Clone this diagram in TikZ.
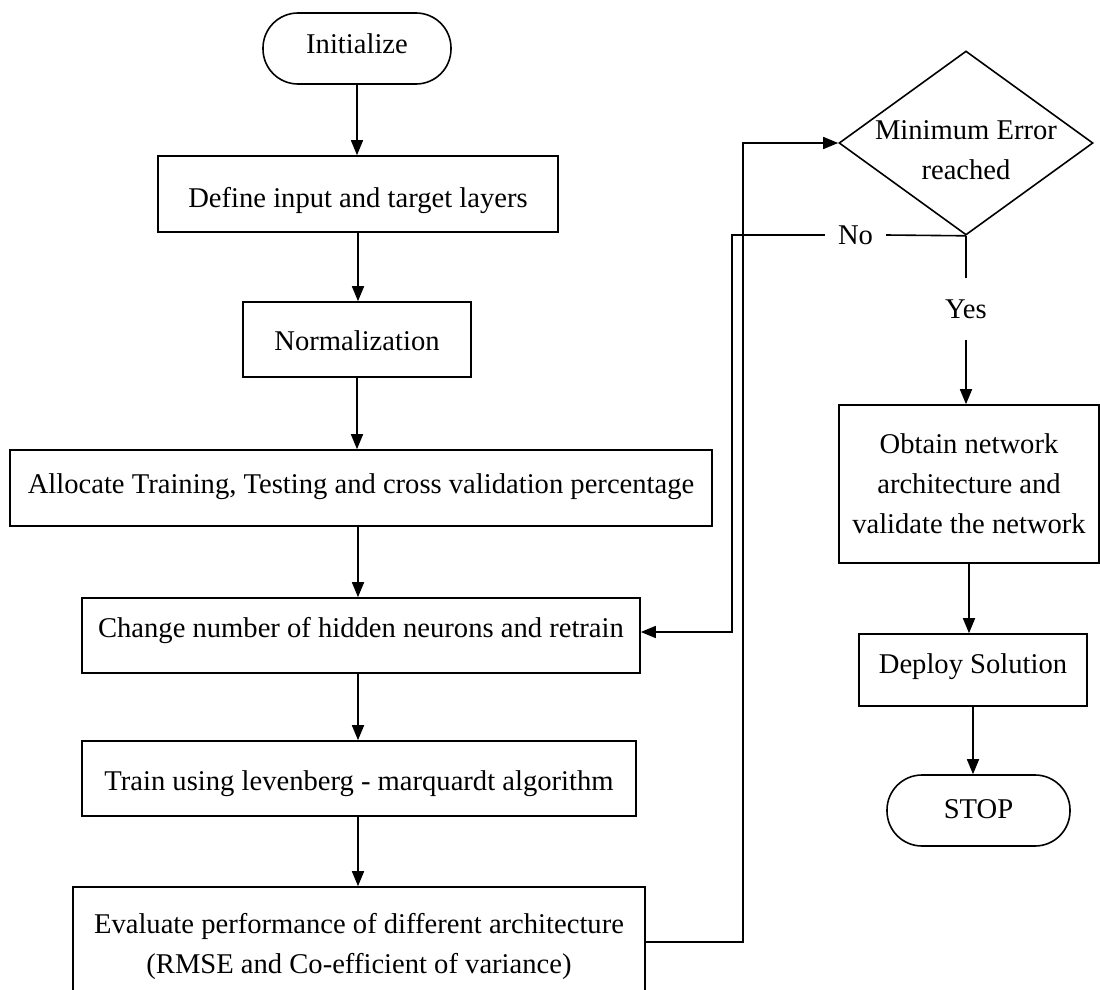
\documentclass[tikz,border=0pt]{standalone}
\usepackage{fontspec}
\setmainfont{Liberation Serif}
\usetikzlibrary{arrows.meta,shapes.geometric}
\begin{document}
\begin{tikzpicture}[x=1pt,y=-1pt,
  every node/.style={font=\fontsize{28.6}{40}\selectfont},
  proc/.style={draw, line width=1.6pt, inner sep=0pt},
  term/.style={draw, line width=1.6pt, inner sep=0pt, rounded corners=35pt},
  arr/.style={line width=1.6pt, -{Triangle[length=15pt,width=12pt]}},
  ln/.style={line width=1.6pt}
]
\useasboundingbox (0,0) rectangle (1100,990);

% left column
\node[term, minimum width=188pt, minimum height=71pt, text height=25.5pt, text depth=14.5pt] (init) at (357,48.5) {Initialize};
\node[proc, minimum width=400pt, minimum height=76pt, text height=33pt, text depth=7pt] (def) at (358,194) {Define input and target layers};
\node[proc, minimum width=228pt, minimum height=75pt, text height=30.5pt, text depth=9.5pt] (norm) at (357,339.5) {Normalization};
\node[proc, minimum width=702pt, minimum height=76pt, text height=25pt, text depth=15pt] (alloc) at (361,488) {Allocate Training, Testing and cross validation percentage};
\node[proc, minimum width=558pt, minimum height=75pt, text height=21.5pt, text depth=18.5pt] (chg) at (361,635.5) {Change number of hidden neurons and retrain};
\node[proc, minimum width=554pt, minimum height=75pt, text height=31.5pt, text depth=8.5pt] (train) at (359,778.5) {Train using levenberg - marquardt algorithm};
\node[proc, align=center, minimum width=572pt, minimum height=118pt] (eval) at (359,946) {Evaluate performance of different architecture\\(RMSE and Co-efficient of variance)};

% right column
\node[draw, diamond, line width=1.6pt, inner sep=0pt, minimum width=254pt, minimum height=184pt] (dec) at (966,143) {};
\node[align=center, inner sep=0pt] (dectxt) at (966,150) {Minimum Error\\reached};
\node[inner xsep=0pt, inner ysep=21pt] (yes) at (966,309) {Yes};
\node[inner xsep=13pt, inner ysep=2pt] (no) at (855.5,235) {No};
\node[proc, align=center, minimum width=260pt, minimum height=158pt] (obt) at (969,484) {Obtain network\\architecture and\\validate the network};
\node[proc, minimum width=228pt, minimum height=72pt, text height=23pt, text depth=17pt] (dep) at (973,670) {Deploy Solution};
\node[term, minimum width=183pt, minimum height=71pt, text height=28pt, text depth=12pt] (stop) at (978.5,810.5) {STOP};

% main flow
\draw[arr] (init.south) -- (init.south |- def.north);
\draw[arr] (def.south) -- (def.south |- norm.north);
\draw[arr] (norm.south) -- (norm.south |- alloc.north);
\draw[arr] (def.south |- alloc.south) -- (def.south |- chg.north);
\draw[arr] (def.south |- chg.south) -- (def.south |- train.north);
\draw[arr] (def.south |- train.south) -- (def.south |- eval.north);

% evaluate -> decision
\coordinate (evr) at (743,942);
\draw[arr] (evr -| eval.east) -- (evr) -- (evr |- dec.west) -- (dec.west);

% No branch
\coordinate (nocorner) at (732,235);
\coordinate (nobottom) at (732,632);
\draw[ln] (dec.south) -- (no.east);
\draw[arr] (no.west) -- (nocorner) -- (nobottom) -- (nobottom -| chg.east);

% Yes branch
\draw[ln] (dec.south) -- (yes.north);
\draw[arr] (yes.south) -- (yes.south |- obt.north);
\draw[arr] (obt.south) -- (obt.south |- dep.north);
\draw[arr] (dep.south) -- (dep.south |- stop.north);
\end{tikzpicture}
\end{document}
